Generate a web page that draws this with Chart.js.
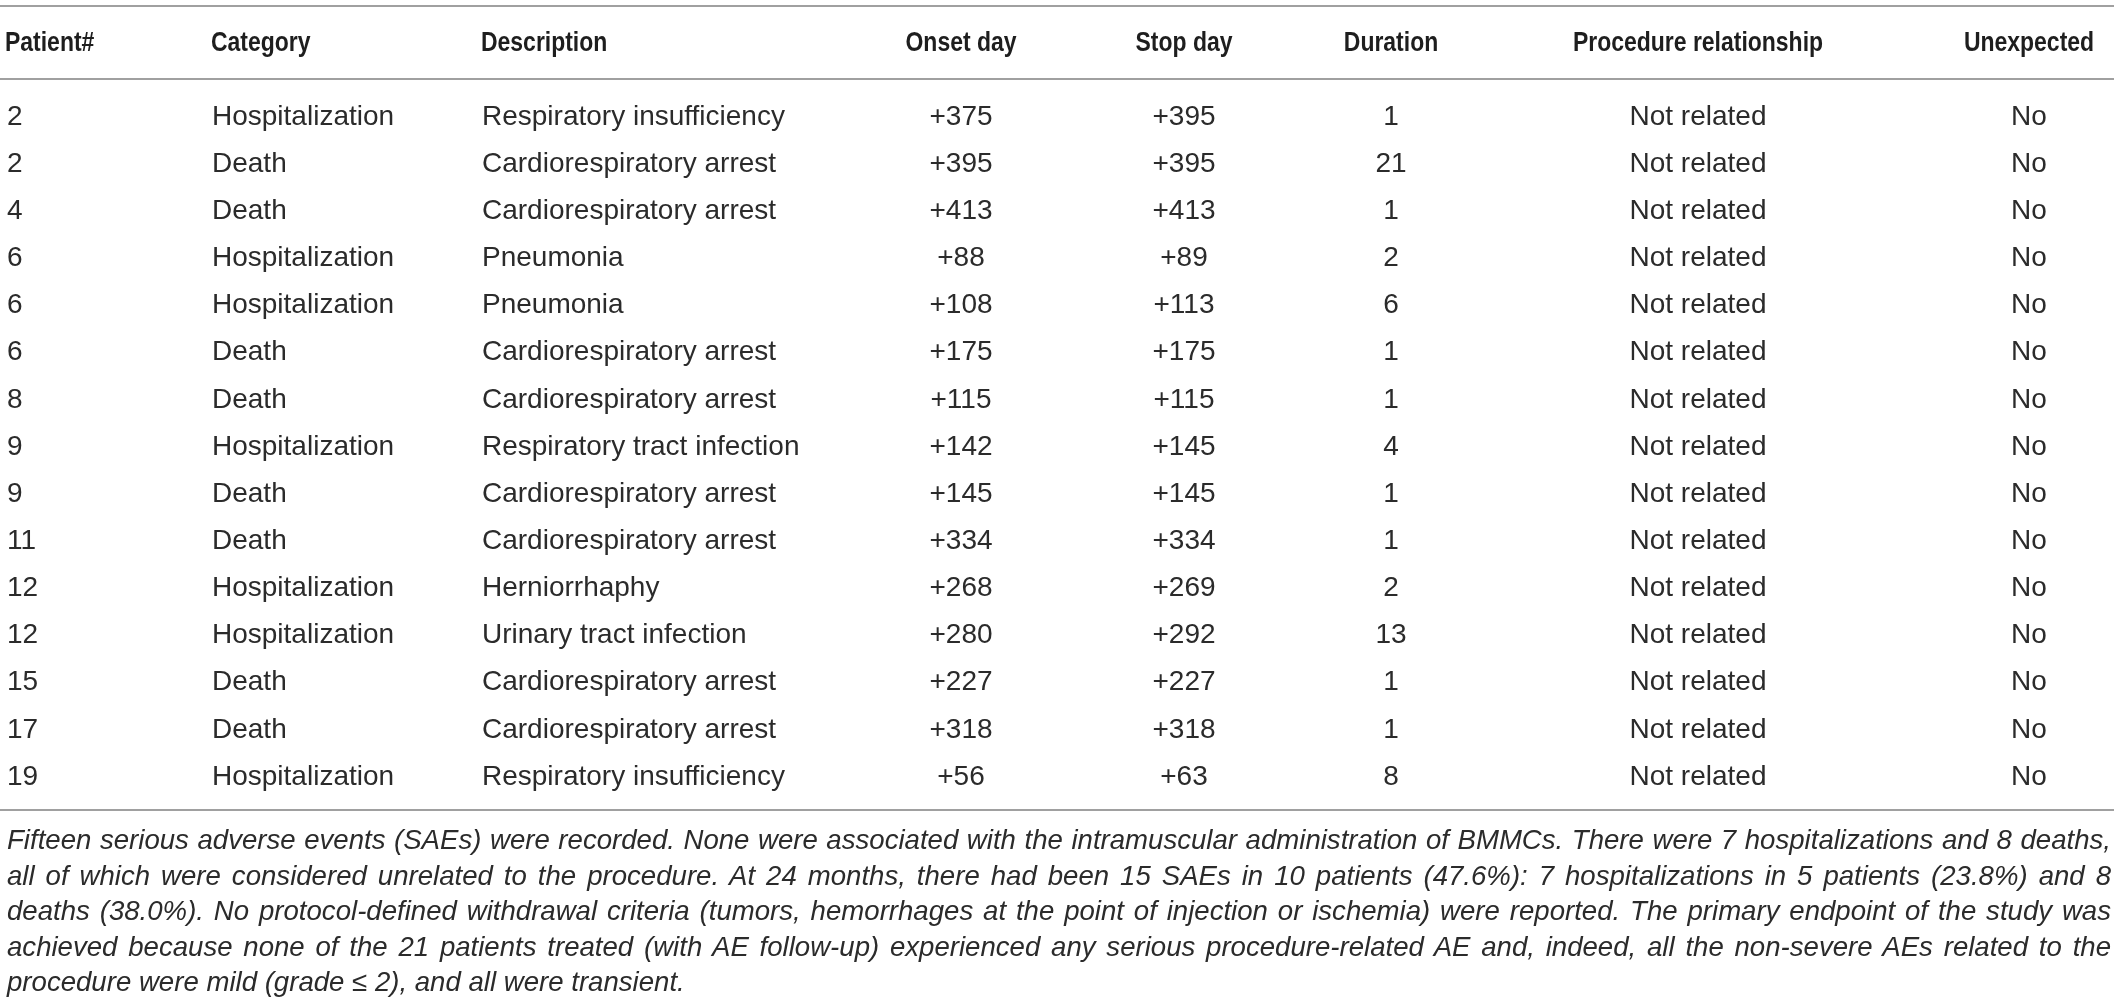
<!DOCTYPE html>
<html>
<head>
<meta charset="utf-8">
<script src="https://cdn.jsdelivr.net/npm/chart.js"></script>
<style>
  html, body { margin: 0; padding: 0; background: #fff; }
  #wrap { position: relative; width: 2119px; height: 1008px; overflow: hidden; }
  #table { position: absolute; left: 0; top: 0; }
  #caption {
    position: absolute; left: 7px; top: 822px; width: 2104px;
    font-family: "Liberation Sans", Arial, sans-serif; font-style: italic;
    color: #2b2b2b; line-height: 35.5px;
  }
  #caption div { text-align: justify; text-align-last: justify; }
  #caption div.last { text-align-last: left; }
</style>
</head>
<body>
<div id="wrap">
  <canvas id="table" width="2119" height="825"></canvas>
  <div id="caption"></div>
</div>
<script>
// table content
const columnTitles = ['Patient#', 'Category', 'Description', 'Onset day', 'Stop day', 'Duration', 'Procedure relationship', 'Unexpected'];
const patients = [2, 2, 4, 6, 6, 6, 8, 9, 9, 11, 12, 12, 15, 17, 19];
const categories = ['Hospitalization', 'Death', 'Death', 'Hospitalization', 'Hospitalization', 'Death', 'Death',
  'Hospitalization', 'Death', 'Death', 'Hospitalization', 'Hospitalization', 'Death', 'Death', 'Hospitalization'];
const descriptions = ['Respiratory insufficiency', 'Cardiorespiratory arrest', 'Cardiorespiratory arrest', 'Pneumonia',
  'Pneumonia', 'Cardiorespiratory arrest', 'Cardiorespiratory arrest', 'Respiratory tract infection',
  'Cardiorespiratory arrest', 'Cardiorespiratory arrest', 'Herniorrhaphy', 'Urinary tract infection',
  'Cardiorespiratory arrest', 'Cardiorespiratory arrest', 'Respiratory insufficiency'];
const onsetDays = [375, 395, 413, 88, 108, 175, 115, 142, 145, 334, 268, 280, 227, 318, 56];
const stopDays = [395, 395, 413, 89, 113, 175, 115, 145, 145, 334, 269, 292, 227, 318, 63];
const durations = [1, 21, 1, 2, 6, 1, 1, 4, 1, 1, 2, 13, 1, 1, 8];
const relationships = ['Not related', 'Not related', 'Not related', 'Not related', 'Not related', 'Not related',
  'Not related', 'Not related', 'Not related', 'Not related', 'Not related', 'Not related', 'Not related',
  'Not related', 'Not related'];
const unexpected = ['No', 'No', 'No', 'No', 'No', 'No', 'No', 'No', 'No', 'No', 'No', 'No', 'No', 'No', 'No'];

const captionLines = [
  'Fifteen serious adverse events (SAEs) were recorded. None were associated with the intramuscular administration of BMMCs. There were 7 hospitalizations and 8 deaths,',
  'all of which were considered unrelated to the procedure. At 24 months, there had been 15 SAEs in 10 patients (47.6%): 7 hospitalizations in 5 patients (23.8%) and 8',
  'deaths (38.0%). No protocol-defined withdrawal criteria (tumors, hemorrhages at the point of injection or ischemia) were reported. The primary endpoint of the study was',
  'achieved because none of the 21 patients treated (with AE follow-up) experienced any serious procedure-related AE and, indeed, all the non-severe AEs related to the',
  'procedure were mild (grade \u2264 2), and all were transient.'
];

// layout (x in px units of the x scale, y in row units)
const colAnchor = [7, 212, 482, 961, 1184, 1391, 1698, 2029];
const headAnchor = [5, 211, 481, 961, 1184, 1391, 1698, 2029];
const colAlign = ['left', 'left', 'left', 'center', 'center', 'center', 'center', 'center'];
const headerRow = -1.57;
const ruleRows = [-2.355, -0.806, 14.70];
const yMin = -2.482, yMax = 15.018;

const plus = d => '+' + d;
const cellColumns = [patients, categories, descriptions, onsetDays.map(plus), stopDays.map(plus),
  durations, relationships, unexpected];

const bodyFont = '28px "Liberation Sans", Arial, sans-serif';
const headFont = 'bold 28px "Liberation Sans Narrow", "Arial Narrow", monospace';

const probe = document.createElement('canvas').getContext('2d');
probe.font = headFont;
const wNarrow = probe.measureText('Patient#').width;
probe.font = 'bold 28px monospace';
const narrowOK = Math.abs(wNarrow - probe.measureText('Patient#').width) > 0.5;

const tablePlugin = {
  id: 'tableText',
  afterDatasetsDraw(chart) {
    const { ctx, scales: { x, y } } = chart;
    ctx.save();
    ctx.strokeStyle = '#a0a0a0';
    ctx.lineWidth = 2;
    ruleRows.forEach(v => {
      const py = Math.round(y.getPixelForValue(v));
      ctx.beginPath();
      ctx.moveTo(x.getPixelForValue(0), py);
      ctx.lineTo(x.getPixelForValue(2114), py);
      ctx.stroke();
    });

    ctx.textBaseline = 'middle';
    ctx.fillStyle = '#1e1e1e';
    const hy = y.getPixelForValue(headerRow);
    columnTitles.forEach((t, c) => {
      const hx = x.getPixelForValue(headAnchor[c]);
      ctx.textAlign = colAlign[c];
      if (narrowOK) {
        ctx.font = headFont;
        ctx.fillText(t, hx, hy);
      } else {
        ctx.save();
        ctx.font = 'bold 28px "Liberation Sans", Arial, sans-serif';
        ctx.translate(hx, hy);
        ctx.scale(0.82, 1);
        ctx.fillText(t, 0, 0);
        ctx.restore();
      }
    });

    ctx.font = bodyFont;
    ctx.fillStyle = '#2b2b2b';
    chart.data.datasets.forEach((ds, d) => {
      const meta = chart.getDatasetMeta(d);
      ctx.textAlign = ds.align;
      meta.data.forEach((pt, i) => ctx.fillText(ds.cellText[i], pt.x, pt.y));
    });
    ctx.restore();
  }
};

const datasets = cellColumns.map((col, c) => ({
  label: columnTitles[c],
  data: col.map((v, r) => ({ x: colAnchor[c], y: r })),
  cellText: col.map(String),
  align: colAlign[c],
  pointRadius: 0,
  showLine: false
}));

new Chart(document.getElementById('table'), {
  type: 'scatter',
  data: { datasets },
  options: {
    responsive: false,
    animation: false,
    devicePixelRatio: 1,
    events: [],
    layout: { padding: 0 },
    plugins: { legend: { display: false }, tooltip: { enabled: false } },
    scales: {
      x: { type: 'linear', display: false, min: 0, max: 2119 },
      y: { type: 'linear', display: false, reverse: true, min: yMin, max: yMax }
    }
  },
  plugins: [tablePlugin]
});

// caption, sized so the widest justified line fits
const capEl = document.getElementById('caption');
captionLines.forEach((line, i) => {
  const div = document.createElement('div');
  div.textContent = line;
  if (i === captionLines.length - 1) div.className = 'last';
  capEl.appendChild(div);
});
probe.font = 'italic 28px "Liberation Sans", Arial, sans-serif';
const widest = Math.max(...captionLines.slice(0, -1).map(l => probe.measureText(l).width));
capEl.style.fontSize = Math.min(28, 28 * 2085 / widest).toFixed(2) + 'px';
</script>
</body>
</html>
